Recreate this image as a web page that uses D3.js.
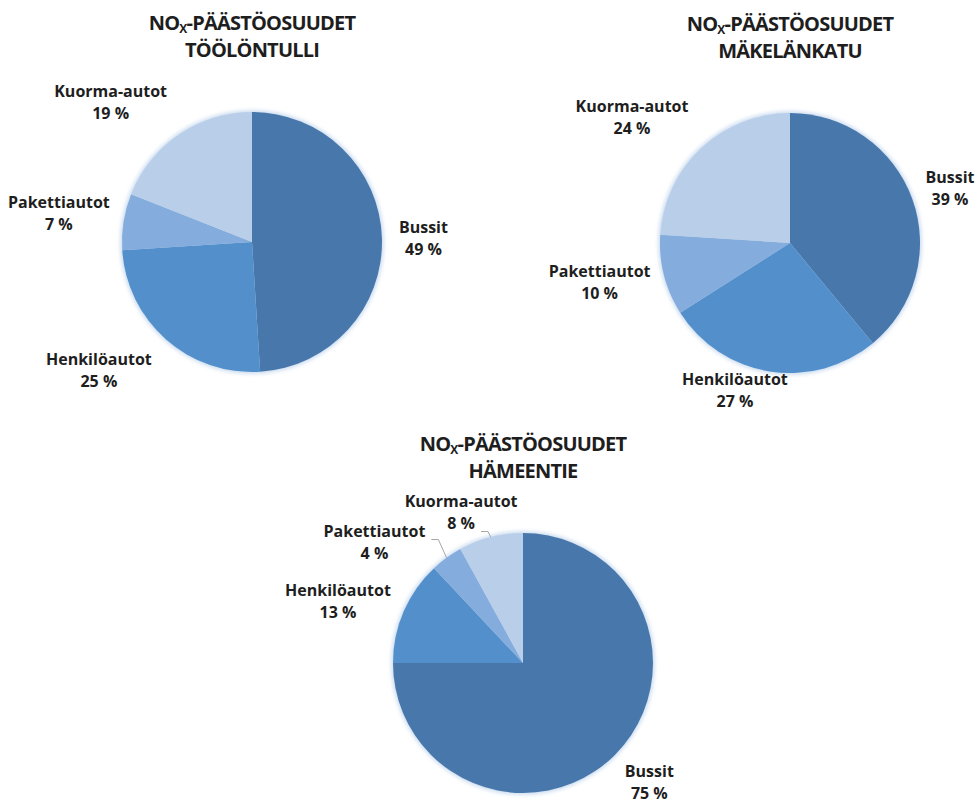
<!DOCTYPE html>
<html>
<head>
<meta charset="utf-8">
<script src="https://cdnjs.cloudflare.com/ajax/libs/d3/7.8.5/d3.min.js"></script>
<style>
  body { margin: 0; background: #fff; }
  text { font-family: "Open Sans", sans-serif; font-weight: bold; fill: #1e1e1e; }
</style>
</head>
<body>
<div id="chart"></div>
<script>
// slice order: clockwise from 12 o'clock
var categories = ["Bussit", "Henkilöautot", "Pakettiautot", "Kuorma-autot"];
var sites = ["TÖÖLÖNTULLI", "MÄKELÄNKATU", "HÄMEENTIE"];

// NOx shares (%)
var tooloValues = [49, 25, 7, 19];
var makelaValues = [39, 27, 10, 24];
var hameValues = [75, 13, 4, 8];

var colors = ["#4878ab", "#5390cb", "#84acdc", "#b9cee9"];

var width = 977,
    height = 803,
    radius = 130;

// where each pie sits, plus small label nudges and leader lines
var layout = [
    { cx: 252, cy: 242, values: tooloValues,
      nudge: [[3, 2], [-5, 3], [0, 0], [-4, -3]], leader: [null, null, null, null] },
    { cx: 790, cy: 243, values: makelaValues,
      nudge: [[0, 6], [-16, -12], [0, -5], [-3, -3]], leader: [null, null, null, null] },
    { cx: 523, cy: 663, values: hameValues,
      nudge: [[0, 0], [0, 10], [-13, 13], [2, 6]], leader: [null, null, 0, 1] }
];

var svg = d3.select("#chart")
    .append("svg")
    .attr("width", width)
    .attr("height", height);

svg.append("rect")
    .attr("width", width)
    .attr("height", height)
    .attr("fill", "#fff");

// soft halo round the pies
var defs = svg.append("defs");
defs.append("filter")
    .attr("id", "halo")
    .attr("x", "-20%").attr("y", "-20%")
    .attr("width", "140%").attr("height", "140%")
    .append("feGaussianBlur")
    .attr("stdDeviation", 2);

var pie = d3.pie().sort(null).value(function(d) { return d; });
var arc = d3.arc().innerRadius(0).outerRadius(radius);

var gap = 14, k = 2, lineH = 22;

function clamp(v) { return Math.max(-1, Math.min(1, v)); }

layout.forEach(function(p, pi) {
    var g = svg.append("g").attr("transform", "translate(" + p.cx + "," + p.cy + ")");

    // title, two lines in one text
    var title = g.append("text")
        .attr("text-anchor", "middle")
        .attr("y", -212)
        .attr("font-size", "20px")
        .attr("letter-spacing", "-0.8");
    title.append("tspan").text("NO");
    title.append("tspan").attr("font-size", "12px").attr("dy", 3).text("X");
    title.append("tspan").attr("dy", -3).text("-PÄÄSTÖOSUUDET");
    title.append("tspan").attr("x", 0).attr("dy", 27).text(sites[pi]);

    g.append("circle")
        .attr("r", radius + 1.5)
        .attr("fill", "#c6d8ee")
        .attr("filter", "url(#halo)");

    var arcs = pie(p.values);

    g.selectAll("path.slice")
        .data(arcs)
        .enter().append("path")
        .attr("class", "slice")
        .attr("d", arc)
        .attr("fill", function(d, i) { return colors[i]; });

    // data labels
    arcs.forEach(function(d, i) {
        var a = (d.startAngle + d.endAngle) / 2,
            s = Math.sin(a),
            c = Math.cos(a);

        var lab = g.append("g");
        var t1 = lab.append("text")
            .attr("text-anchor", "middle")
            .attr("font-size", "16px")
            .text(categories[i]);
        var t2 = lab.append("text")
            .attr("text-anchor", "middle")
            .attr("font-size", "16px")
            .attr("y", lineH)
            .text(d.data + " %");

        var hw = Math.max(t1.node().getComputedTextLength(), t2.node().getComputedTextLength()) / 2,
            hh = 17.5;

        var px = (radius + gap) * s,
            py = -(radius + gap) * c;

        var x = px + hw * clamp(s * k) + p.nudge[i][0],
            y = py - hh * clamp(c * k) - 5.5 + p.nudge[i][1];

        lab.attr("transform", "translate(" + x + "," + y + ")");

        if (p.leader[i] !== null) {
            var line = p.leader[i] === 0 ? t1 : t2,
                lx = x + line.node().getComputedTextLength() / 2 + 6,
                ly = y + p.leader[i] * lineH + 3;
            g.append("path")
                .attr("d", "M" + lx + "," + ly + "H" + (lx + 7) +
                    "L" + (radius * s) + "," + (-radius * c))
                .attr("fill", "none")
                .attr("stroke", "#a6a6a6")
                .attr("stroke-width", 1);
        }
    });
});
</script>
</body>
</html>
